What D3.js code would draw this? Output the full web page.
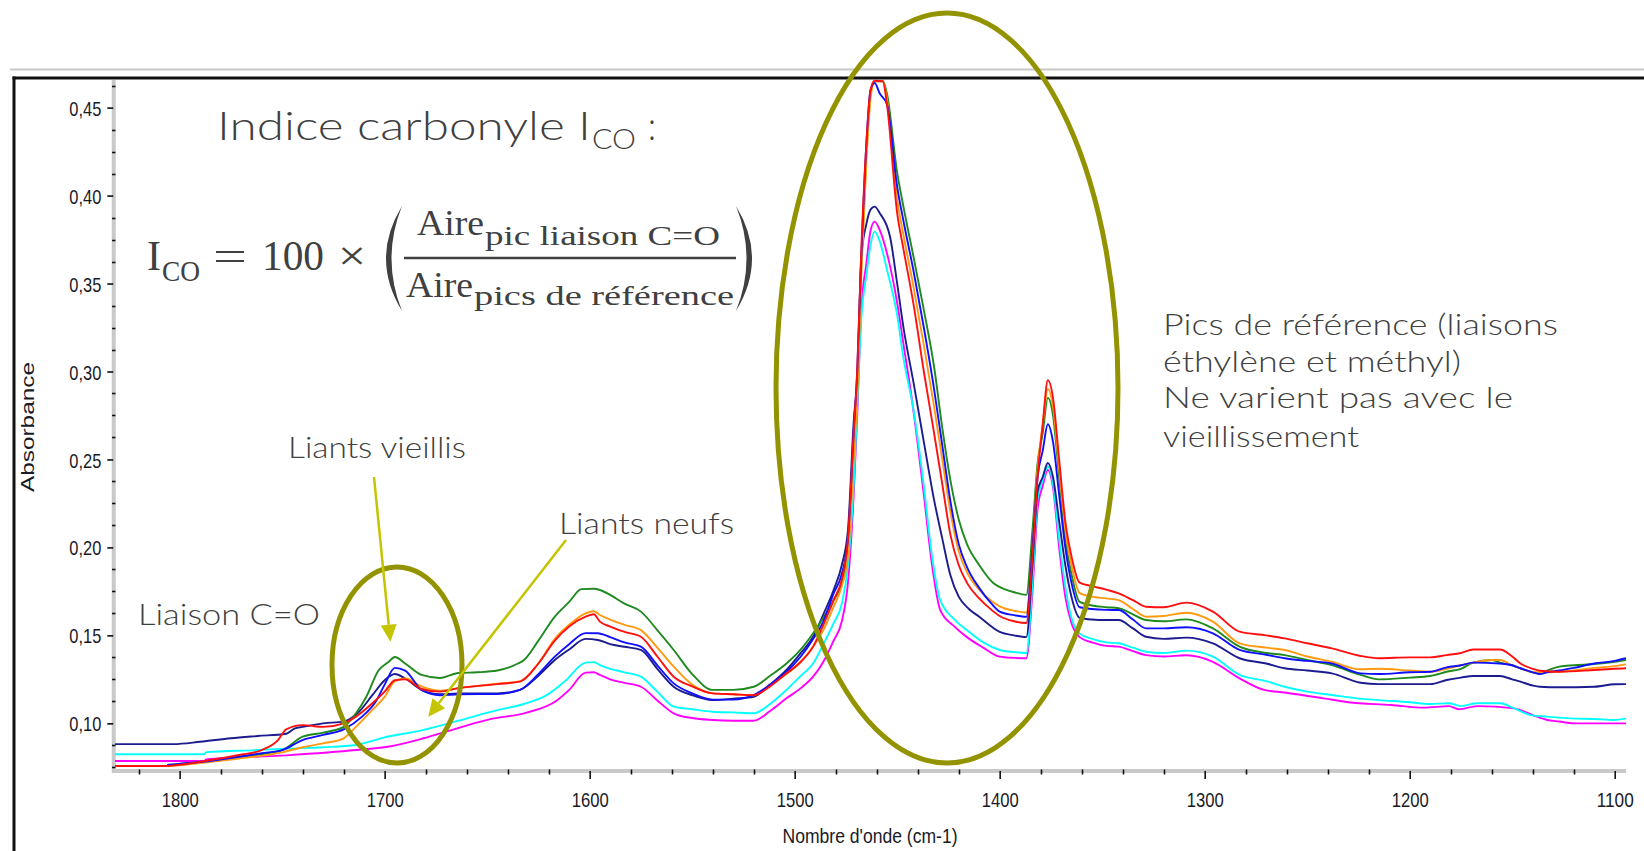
<!DOCTYPE html>
<html>
<head>
<meta charset="utf-8">
<script src="https://cdn.jsdelivr.net/npm/d3@7"></script>
<style>
  html, body { margin: 0; padding: 0; background: #fff; overflow: hidden; }
  svg { display: block; }
  .tick-label { font-family: "Liberation Sans Narrow", "Arial Narrow", "Liberation Sans", sans-serif; fill: #1a1a26; }
  .note { font-family: "Century Gothic", "Lato", sans-serif; font-weight: 300; fill: #404040; }
  .math { font-family: "Liberation Serif", serif; font-weight: 400; fill: #404040; }
</style>
</head>
<body>
<svg id="chart" width="1644" height="851"></svg>
<script>
// IR spectra, wavenumber (cm-1) -> absorbance
const navy = [
  [1832.5,0.0882],[1803,0.0882],[1790,0.0895],[1775,0.0915],[1762,0.0928],[1748,0.0941],[1744,0.097],[1740,0.098],
  [1730,0.100],[1720,0.101],[1713,0.106],[1706,0.116],[1700,0.1245],[1695,0.128],[1690,0.1255],[1682,0.119],
  [1673,0.1165],[1664,0.117],[1645,0.117],[1634,0.119],[1625,0.127],[1617,0.136],[1610,0.142],[1602,0.148],
  [1596,0.1474],[1590,0.145],[1583,0.1435],[1575,0.1417],[1567,0.131],[1559,0.1208],[1550,0.116],[1540,0.1132],
  [1530,0.114],[1520,0.1151],[1512,0.122],[1504,0.1303],[1497,0.140],[1491,0.1492],[1486,0.162],[1481,0.1758],
  [1477,0.19],[1474,0.21],[1471,0.275],[1469.5,0.2935],[1467.5,0.365],[1465,0.384],[1463,0.392],[1461,0.3937],
  [1458.5,0.39],[1453.5,0.3767],[1450,0.350],[1447,0.3255],[1442,0.2935],[1437,0.26],[1432,0.227],[1428,0.205],
  [1424,0.184],[1420,0.172],[1415,0.165],[1410,0.1606],[1400,0.152],[1393,0.150],[1387,0.149],[1384,0.19],
  [1381.5,0.232],[1379,0.240],[1376.5,0.248],[1374,0.24],[1371,0.215],[1368,0.19],[1365,0.172],[1361,0.160],
  [1355,0.159],[1348,0.1587],[1342,0.1587],[1335,0.154],[1328.6,0.1492],[1320,0.148],[1309,0.1487],[1296,0.1455],
  [1283,0.137],[1270,0.134],[1261,0.1313],[1250,0.130],[1238,0.1284],[1224,0.1231],[1215,0.1223],[1200,0.1223],
  [1190,0.1223],[1182,0.1246],[1175,0.126],[1169,0.1269],[1156,0.1269],[1150,0.125],[1146,0.1237],[1140,0.1215],
  [1136.5,0.1208],[1127,0.1205],[1110,0.1208],[1100,0.1222],[1094.5,0.1223]
];
const blue = [
  [1806,0.0763],[1790,0.078],[1771,0.081],[1760,0.083],[1750,0.0848],[1740,0.0905],[1730,0.0934],[1720,0.0966],
  [1711,0.1038],[1704,0.113],[1700,0.122],[1695,0.1315],[1690,0.130],[1682,0.119],[1673,0.116],[1664,0.1165],
  [1645,0.1167],[1634,0.119],[1625,0.128],[1617,0.1379],[1610,0.145],[1602,0.1513],[1596,0.1512],[1590,0.149],
  [1583,0.146],[1575,0.1436],[1567,0.133],[1559,0.1227],[1550,0.117],[1540,0.1135],[1530,0.1135],[1520,0.116],
  [1512,0.122],[1504,0.1293],[1497,0.138],[1491,0.148],[1486,0.158],[1481,0.1739],[1477,0.185],[1474,0.205],
  [1471,0.27],[1469.5,0.30],[1467.5,0.365],[1465,0.43],[1463,0.46],[1461,0.464],[1458.5,0.458],[1455,0.452],
  [1450,0.405],[1447,0.386],[1442,0.357],[1437,0.325],[1432,0.29],[1428,0.258],[1424,0.226],[1420,0.202],
  [1416,0.189],[1410,0.177],[1404,0.168],[1400,0.1635],[1393,0.1615],[1387,0.1605],[1384,0.20],[1381.5,0.24],
  [1379,0.255],[1376.5,0.27],[1374,0.26],[1371,0.23],[1368,0.2],[1365,0.18],[1361,0.166],[1355,0.165],
  [1348,0.1645],[1342,0.1644],[1335,0.159],[1328.6,0.154],[1320,0.154],[1309,0.1546],[1296,0.1512],[1283,0.1417],
  [1270,0.139],[1261,0.137],[1250,0.1355],[1238,0.134],[1224,0.1284],[1215,0.128],[1200,0.129],[1190,0.1293],
  [1182,0.1318],[1175,0.133],[1169,0.1345],[1156,0.134],[1150,0.133],[1146,0.1313],[1140,0.129],[1136.5,0.128],
  [1133,0.129],[1127,0.130],[1120,0.1315],[1110,0.134],[1100,0.1355],[1094.5,0.137]
];
const green = [
  [1806,0.0763],[1790,0.078],[1771,0.081],[1750,0.0848],[1740,0.0924],[1730,0.0947],[1720,0.098],[1714,0.1057],
  [1709,0.115],[1703,0.130],[1698,0.135],[1695,0.1377],[1690,0.134],[1682,0.1275],[1673,0.1258],[1664,0.1286],
  [1655,0.129],[1645,0.130],[1635,0.134],[1632,0.136],[1625,0.147],[1617,0.1606],[1610,0.169],[1604,0.1763],
  [1598,0.1765],[1595,0.1758],[1590,0.173],[1583,0.168],[1575,0.1635],[1567,0.153],[1559,0.1417],[1550,0.128],
  [1540,0.119],[1530,0.119],[1520,0.1208],[1512,0.127],[1504,0.134],[1497,0.142],[1491,0.1512],[1486,0.16],
  [1481,0.170],[1477,0.18],[1474,0.2],[1471,0.26],[1469.5,0.29],[1467.5,0.36],[1465,0.425],[1463,0.458],
  [1461,0.465],[1457,0.465],[1455,0.458],[1450,0.413],[1447,0.394],[1442,0.365],[1437,0.335],[1432,0.3027],
  [1428,0.268],[1424,0.238],[1420,0.216],[1416,0.202],[1410,0.19],[1403,0.1796],[1397,0.176],[1393,0.1745],
  [1387,0.173],[1384,0.21],[1381.5,0.248],[1379,0.265],[1376.5,0.285],[1374,0.275],[1371,0.24],[1368,0.205],
  [1365,0.185],[1361,0.169],[1355,0.167],[1348,0.166],[1342,0.1654],[1335,0.162],[1328.6,0.1587],[1320,0.158],
  [1309,0.1591],[1296,0.154],[1283,0.1436],[1270,0.140],[1261,0.1388],[1250,0.136],[1238,0.1331],[1224,0.1275],
  [1215,0.125],[1200,0.126],[1190,0.1269],[1182,0.1293],[1175,0.131],[1169,0.1345],[1160,0.136],[1156,0.1345],
  [1150,0.133],[1146,0.1313],[1140,0.129],[1136.5,0.1284],[1133,0.130],[1127,0.1322],[1120,0.133],[1110,0.1337],
  [1100,0.135],[1094.5,0.136]
];
const orange = [
  [1806,0.0755],[1771,0.080],[1750,0.0835],[1740,0.0864],[1730,0.0886],[1720,0.0915],[1714,0.098],[1706,0.1076],
  [1700,0.115],[1695,0.124],[1690,0.1255],[1682,0.121],[1673,0.1185],[1664,0.120],[1645,0.1225],[1634,0.124],
  [1625,0.134],[1617,0.148],[1610,0.156],[1602,0.1625],[1598,0.1637],[1595,0.1616],[1590,0.159],[1583,0.156],
  [1575,0.153],[1567,0.143],[1559,0.1322],[1550,0.122],[1540,0.117],[1530,0.1165],[1520,0.116],[1512,0.122],
  [1504,0.128],[1497,0.135],[1491,0.1436],[1486,0.153],[1481,0.1663],[1477,0.178],[1474,0.195],[1471,0.255],
  [1469.5,0.285],[1467.5,0.355],[1465,0.42],[1463,0.455],[1461,0.465],[1457,0.465],[1455,0.455],[1450,0.398],
  [1447,0.378],[1442,0.348],[1437,0.315],[1432,0.28],[1428,0.25],[1424,0.22],[1420,0.198],[1416,0.186],
  [1410,0.176],[1404,0.1695],[1400,0.1665],[1393,0.164],[1387,0.163],[1384,0.20],[1381.5,0.245],[1379,0.27],
  [1376.5,0.29],[1374,0.28],[1371,0.245],[1368,0.21],[1365,0.19],[1361,0.174],[1355,0.172],[1348,0.171],
  [1342,0.170],[1335,0.165],[1328.6,0.1606],[1320,0.161],[1309,0.1629],[1296,0.1578],[1283,0.1455],[1270,0.143],
  [1261,0.1417],[1250,0.138],[1238,0.135],[1224,0.1307],[1215,0.131],[1200,0.130],[1190,0.1293],[1182,0.131],
  [1175,0.133],[1169,0.1345],[1160,0.136],[1156,0.136],[1150,0.133],[1146,0.1313],[1140,0.129],[1136.5,0.129],
  [1127,0.1293],[1120,0.130],[1110,0.1315],[1100,0.1325],[1094.5,0.1335]
];
const red = [
  [1832.5,0.0757],[1808,0.0757],[1787,0.0787],[1771,0.082],[1760,0.0848],[1752,0.0905],[1748,0.0966],[1740,0.099],
  [1730,0.098],[1720,0.100],[1714,0.1038],[1706,0.1114],[1700,0.118],[1695,0.1245],[1690,0.125],[1682,0.1195],
  [1673,0.118],[1664,0.120],[1645,0.1223],[1634,0.1237],[1625,0.134],[1617,0.147],[1610,0.155],[1602,0.1606],
  [1598,0.162],[1595,0.1578],[1590,0.155],[1583,0.152],[1575,0.1492],[1567,0.138],[1559,0.1265],[1550,0.121],
  [1540,0.117],[1530,0.1165],[1520,0.116],[1512,0.121],[1504,0.1284],[1497,0.135],[1491,0.1436],[1486,0.156],
  [1481,0.170],[1477,0.182],[1474,0.205],[1471,0.27],[1469.5,0.30],[1467.5,0.369],[1465,0.43],[1463,0.46],
  [1461,0.4653],[1457,0.465],[1455,0.452],[1450,0.39],[1447,0.37],[1442,0.338],[1437,0.30],[1432,0.265],
  [1428,0.236],[1424,0.207],[1420,0.19],[1416,0.18],[1410,0.171],[1404,0.1645],[1400,0.161],[1393,0.158],
  [1387,0.157],[1384,0.195],[1381.5,0.24],[1379,0.27],[1376.5,0.295],[1374,0.285],[1371,0.25],[1368,0.215],
  [1365,0.195],[1361,0.18],[1355,0.178],[1348,0.176],[1342,0.1739],[1335,0.170],[1328.6,0.1663],[1320,0.166],
  [1309,0.1686],[1296,0.1635],[1283,0.1521],[1270,0.150],[1261,0.1483],[1250,0.1455],[1238,0.1426],[1224,0.1383],
  [1215,0.137],[1200,0.1375],[1190,0.1375],[1182,0.1388],[1175,0.140],[1169,0.142],[1156,0.142],[1150,0.138],
  [1146,0.134],[1140,0.131],[1136.5,0.1299],[1127,0.1293],[1110,0.1303],[1100,0.131],[1094.5,0.1313]
];
const cyan = [
  [1832.5,0.0824],[1788,0.0824],[1787,0.0836],[1762,0.0848],[1748,0.0856],[1730,0.0864],[1714,0.0877],[1700,0.092],
  [1682,0.096],[1664,0.1015],[1645,0.1075],[1632,0.111],[1621,0.116],[1612,0.124],[1602,0.1345],[1598,0.1348],
  [1595,0.1331],[1590,0.131],[1583,0.129],[1575,0.1265],[1567,0.118],[1559,0.1095],[1550,0.108],[1540,0.1066],
  [1530,0.1062],[1520,0.1057],[1512,0.111],[1504,0.119],[1497,0.127],[1491,0.134],[1486,0.145],[1481,0.157],
  [1477,0.168],[1474,0.19],[1471,0.24],[1469.5,0.28],[1467.5,0.33],[1465,0.355],[1463,0.372],[1461,0.3795],
  [1458.5,0.374],[1455,0.358],[1450,0.332],[1447,0.308],[1442,0.278],[1437,0.235],[1433,0.195],[1429,0.170],
  [1422,0.159],[1416,0.153],[1408,0.146],[1400,0.1417],[1393,0.1405],[1387,0.140],[1384,0.18],[1381.5,0.228],
  [1379,0.238],[1376.5,0.246],[1374,0.236],[1371,0.205],[1368,0.178],[1365,0.16],[1361,0.151],[1355,0.148],
  [1348,0.146],[1342,0.1455],[1335,0.143],[1328.6,0.1407],[1320,0.140],[1309,0.1413],[1296,0.1379],[1283,0.1275],
  [1270,0.124],[1261,0.1208],[1250,0.118],[1238,0.1161],[1226,0.1142],[1215,0.1132],[1200,0.112],[1190,0.111],
  [1181,0.1114],[1175,0.1098],[1167,0.1114],[1156,0.1114],[1149,0.1085],[1141,0.1047],[1133,0.1038],[1121.6,0.1028],
  [1110,0.1025],[1100.5,0.1019],[1094.5,0.1028]
];
const magenta = [
  [1832.5,0.0786],[1788,0.0786],[1787,0.0795],[1748,0.0818],[1714,0.0848],[1697,0.087],[1681,0.0915],[1665,0.097],
  [1648,0.1025],[1632,0.1057],[1616,0.113],[1610,0.119],[1602,0.1288],[1598,0.129],[1595,0.1275],[1590,0.125],
  [1583,0.123],[1575,0.1208],[1567,0.113],[1559,0.1057],[1550,0.103],[1540,0.1019],[1530,0.1015],[1520,0.1015],
  [1512,0.107],[1504,0.1142],[1497,0.12],[1491,0.1265],[1486,0.135],[1481,0.147],[1477,0.158],[1474,0.18],
  [1471,0.235],[1469.5,0.275],[1467.5,0.335],[1465,0.3616],[1463,0.380],[1461,0.3852],[1458.5,0.3804],[1454.5,0.365],
  [1450,0.339],[1447,0.316],[1443,0.2857],[1437,0.23],[1433,0.19],[1429,0.1644],[1422,0.155],[1416,0.149],
  [1408,0.143],[1400,0.1379],[1393,0.1372],[1387,0.137],[1384,0.175],[1381.5,0.222],[1379,0.235],[1376.5,0.244],
  [1374,0.234],[1371,0.2],[1368,0.172],[1365,0.157],[1361,0.149],[1355,0.146],[1348,0.144],[1342,0.1436],
  [1335,0.141],[1328.6,0.1388],[1320,0.138],[1309,0.1387],[1296,0.135],[1283,0.1256],[1271,0.119],[1261,0.1175],
  [1242,0.1142],[1230,0.112],[1209,0.1104],[1193,0.1089],[1181,0.1098],[1176,0.108],[1167,0.1098],[1149,0.1085],
  [1140,0.1047],[1133,0.1019],[1127,0.101],[1120,0.100],[1094.5,0.100]
];

const xTicks = [1800, 1700, 1600, 1500, 1400, 1300, 1200, 1100];
const yTicks = [0.10, 0.15, 0.20, 0.25, 0.30, 0.35, 0.40, 0.45];

// drawing order: last one ends on top
const seriesList = [
  { values: magenta, color: "#ff00ff" },
  { values: cyan, color: "#00ffff" },
  { values: navy, color: "#1c1c8e" },
  { values: green, color: "#1f8a1f" },
  { values: orange, color: "#ff9a10" },
  { values: blue, color: "#1010ff" },
  { values: red, color: "#ff1010" }
];

const svg = d3.select("#chart");

const plot = { left: 113, right: 1626, top: 80, bottom: 771 };
const x = d3.scaleLinear().domain([1832.5, 1094.5]).range([plot.left, plot.right]);
const y = d3.scaleLinear().domain([0.0729, 0.4657]).range([plot.bottom, plot.top]);

// window frame
svg.append("line").attr("x1", 10).attr("x2", 1644).attr("y1", 69.5).attr("y2", 69.5)
  .attr("stroke", "#c8c8c8").attr("stroke-width", 2);
svg.append("line").attr("x1", 12.5).attr("x2", 1644).attr("y1", 78).attr("y2", 78)
  .attr("stroke", "#111").attr("stroke-width", 3);
svg.append("line").attr("x1", 14).attr("x2", 14).attr("y1", 76.5).attr("y2", 851)
  .attr("stroke", "#111").attr("stroke-width", 3);

// axis bands
svg.append("line").attr("x1", 113.7).attr("x2", 113.7).attr("y1", plot.top).attr("y2", plot.bottom + 2)
  .attr("stroke", "#c9c9c9").attr("stroke-width", 4);
svg.append("line").attr("x1", plot.left).attr("x2", plot.right).attr("y1", 771).attr("y2", 771)
  .attr("stroke", "#c9c9c9").attr("stroke-width", 4);

// minor ticks
const yMinor = d3.range(0.075, 0.465, 0.0125).filter(v => !yTicks.some(t => Math.abs(t - v) < 1e-6));
svg.append("g").selectAll("line").data(yMinor).join("line")
  .attr("x1", 112).attr("x2", 115.5)
  .attr("y1", d => Math.round(y(d)) + 0.5).attr("y2", d => Math.round(y(d)) + 0.5)
  .attr("stroke", "#111").attr("stroke-width", 1.6);
const xMinor = d3.range(1820, 1090, -20).filter(v => v % 100 !== 0);
svg.append("g").selectAll("line").data(xMinor).join("line")
  .attr("x1", d => Math.round(x(d)) + 0.5).attr("x2", d => Math.round(x(d)) + 0.5)
  .attr("y1", 769.5).attr("y2", 774.5)
  .attr("stroke", "#111").attr("stroke-width", 1.6);

// major axes
const yAxis = d3.axisLeft(y).tickValues(yTicks).tickSize(6).tickSizeOuter(0).tickPadding(6)
  .tickFormat(d => d3.format(".2f")(d).replace(".", ","));
const gy = svg.append("g").attr("transform", `translate(113.3,0)`).call(yAxis);
gy.select(".domain").remove();
gy.selectAll(".tick line").attr("stroke", "#111").attr("stroke-width", 1.6);
gy.selectAll(".tick text").attr("class", "tick-label").attr("font-size", 21)
  .attr("dy", "0.36em").attr("textLength", 32).attr("lengthAdjust", "spacingAndGlyphs");

const xAxis = d3.axisBottom(x).tickValues(xTicks).tickSize(8).tickSizeOuter(0).tickPadding(13)
  .tickFormat(d3.format("d"));
const gx = svg.append("g").attr("transform", `translate(0,771)`).call(xAxis);
gx.select(".domain").remove();
gx.selectAll(".tick line").attr("stroke", "#111").attr("stroke-width", 1.6);
gx.selectAll(".tick text").attr("class", "tick-label").attr("font-size", 21)
  .attr("textLength", 37).attr("lengthAdjust", "spacingAndGlyphs");
svg.selectAll(".tick text").attr("fill", "#1a1a26");

// axis titles
svg.append("text").attr("class", "tick-label").attr("x", 870).attr("y", 843)
  .attr("text-anchor", "middle").attr("font-size", 20)
  .attr("textLength", 175).attr("lengthAdjust", "spacingAndGlyphs")
  .text("Nombre d'onde (cm-1)");
svg.append("text").attr("transform", "translate(34,427) rotate(-90)")
  .attr("text-anchor", "middle").attr("font-size", 18)
  .attr("font-family", "Liberation Sans, Arial, sans-serif").attr("fill", "#1a1a26")
  .attr("textLength", 130).attr("lengthAdjust", "spacingAndGlyphs")
  .text("Absorbance");

// spectra
svg.append("clipPath").attr("id", "plot-clip").append("rect")
  .attr("x", plot.left + 2).attr("y", plot.top - 2)
  .attr("width", plot.right - plot.left).attr("height", plot.bottom - plot.top);

const line = d3.line().x(d => x(d[0])).y(d => y(d[1])).curve(d3.curveMonotoneX);
svg.append("g").attr("clip-path", "url(#plot-clip)")
  .selectAll("path").data(seriesList).join("path")
  .attr("d", d => line(d.values))
  .attr("fill", "none")
  .attr("stroke", d => d.color)
  .attr("stroke-width", 1.9)
  .attr("stroke-linejoin", "round");

// annotations
const olive = "#939300";
const lime = "#c4c400";
svg.append("ellipse").attr("cx", 947).attr("cy", 388).attr("rx", 171).attr("ry", 375)
  .attr("fill", "none").attr("stroke", olive).attr("stroke-width", 5);
svg.append("ellipse").attr("cx", 397).attr("cy", 665).attr("rx", 65).attr("ry", 98)
  .attr("fill", "none").attr("stroke", olive).attr("stroke-width", 5);

function arrow(x1, y1, x2, y2) {
  const a = Math.atan2(y2 - y1, x2 - x1);
  const len = 17, hw = 8;
  const bx = x2 - len * Math.cos(a), by = y2 - len * Math.sin(a);
  svg.append("line").attr("x1", x1).attr("y1", y1).attr("x2", bx).attr("y2", by)
    .attr("stroke", lime).attr("stroke-width", 2.5);
  const px = -Math.sin(a) * hw, py = Math.cos(a) * hw;
  svg.append("path")
    .attr("d", `M${x2},${y2}L${bx + px},${by + py}L${bx - px},${by - py}Z`)
    .attr("fill", lime);
}
arrow(374, 477, 390.4, 641.7);
arrow(566, 540, 428.3, 716.7);

function note(txt, x0, yBase, size, width) {
  svg.append("text").attr("class", "note").attr("x", x0).attr("y", yBase)
    .attr("font-size", size).attr("textLength", width).attr("lengthAdjust", "spacingAndGlyphs")
    .text(txt);
}
note("Liants vieillis", 288, 458, 29, 178);
note("Liants neufs", 559, 534, 29, 175);
note("Liaison C=O", 138, 625, 30, 182);
note("Pics de référence (liaisons", 1163, 335, 30, 395);
note("éthylène et méthyl)", 1163, 372, 30, 298);
note("Ne varient pas avec le", 1163, 408, 30, 350);
note("vieillissement", 1163, 447, 30, 196);

note("Indice carbonyle I", 217, 140, 39, 374);
note("CO", 592, 149, 27, 44);
note(":", 648, 140, 39, 8);

// formula
function mathText(txt, x0, yBase, size, width) {
  const t = svg.append("text").attr("class", "math").attr("x", x0).attr("y", yBase)
    .attr("font-size", size).text(txt);
  if (width) t.attr("textLength", width).attr("lengthAdjust", "spacingAndGlyphs");
  return t;
}
mathText("I", 147, 270, 43, 14);
mathText("CO", 162, 281, 30, 38);
mathText("=", 213, 270, 43, 34);
mathText("100", 262, 270, 43, 62);
mathText("×", 338, 270, 43, 28);
mathText("Aire", 417, 235, 36, 67);
mathText("pic liaison C=O", 485, 245, 27, 235);
mathText("Aire", 406, 297, 36, 67);
mathText("pics de référence", 474, 305, 27, 260);
svg.append("line").attr("x1", 404).attr("x2", 736).attr("y1", 258).attr("y2", 258)
  .attr("stroke", "#404040").attr("stroke-width", 2.5);
svg.append("path").attr("d", "M402,206 Q370,258.5 402,311 Q381,258.5 402,206Z").attr("fill", "#404040");
svg.append("path").attr("d", "M736,206 Q768,258.5 736,311 Q757,258.5 736,206Z").attr("fill", "#404040");
</script>
</body>
</html>
